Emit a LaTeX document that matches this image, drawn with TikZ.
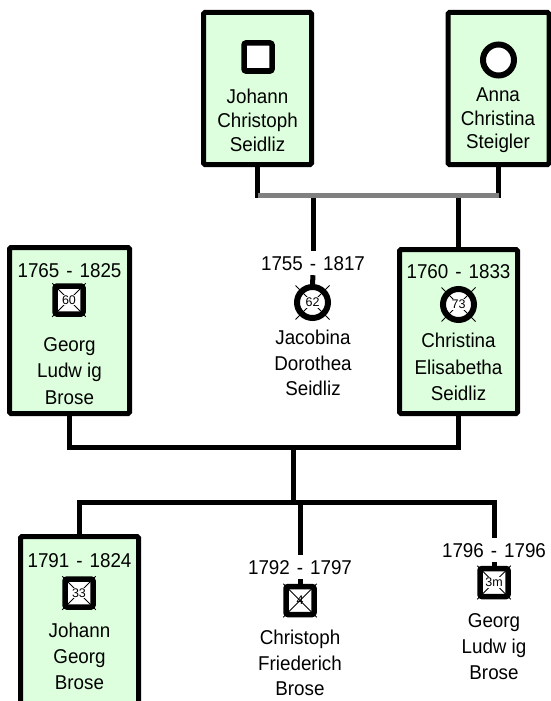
\documentclass[tikz,border=0pt]{standalone}
\usepackage{fontspec}
\setmainfont{Liberation Sans}[FakeStretch=0.94]
\newfontfamily\numfont{Liberation Sans}
\definecolor{boxgreen}{RGB}{221,255,221}
\definecolor{lingray}{RGB}{128,128,128}
\tikzset{
  pbox/.style={draw=black, line width=5pt, fill=boxgreen, rounded corners=1.5pt, inner sep=0pt},
  conn/.style={draw=black, line width=5pt},
  grayconn/.style={draw=lingray, line width=5pt},
  sqsym/.style={rectangle, draw=black, line width=5.5pt, fill=white, rounded corners=2pt, minimum size=28pt, inner sep=0pt},
  cisym/.style={circle, draw=black, line width=6pt, fill=white, minimum size=31pt, inner sep=0pt},
  xline/.style={draw=black, line width=0.8pt},
  agenum/.style={font=\numfont\fontsize{12.5}{12.5}\selectfont, inner sep=1pt, fill=white},
  agenumclear/.style={font=\numfont\fontsize{12.5}{12.5}\selectfont, inner sep=1pt},
  datestxt/.style={font={\fontsize{20}{24}\selectfont\spaceskip=7pt\relax}, inner xsep=0pt, inner ysep=5pt, text height=14.3pt, text depth=0pt, anchor=base},
  namestxt/.style={font=\fontsize{20}{#1}\selectfont, align=center, inner sep=0pt, anchor=north},
}
\begin{document}
\begin{tikzpicture}[x=1pt,y=-1pt]
\useasboundingbox (0,0) rectangle (550,701);
% ---------- boxes ----------
\node[pbox, minimum width=108pt, minimum height=152pt] (jcs) at (257.5,88.5) {};
\node[pbox, minimum width=101pt, minimum height=152pt] (acs) at (498.5,88.5) {};
\node[pbox, minimum width=120pt, minimum height=166pt] (glb) at (69.5,330.5) {};
\node[pbox, minimum width=118pt, minimum height=164pt] (ces) at (458.5,331.5) {};
\node[pbox, minimum width=118pt, minimum height=181pt] (jgb) at (79.5,627) {};
% ---------- top generation ----------
\node[sqsym] (jcsS) at (258,57) {};
\node[namestxt=24pt] (jcsN) at (257.5,89) {Johann\\Christoph\\Seidliz};
\node[cisym] (acsS) at (498.5,60) {};
\node[namestxt=23.5pt] (acsN) at (498,88) {Anna\\Christina\\Steigler};
% ---------- middle generation ----------
\node[datestxt] (glbD) at (69.5,277) {1765 - 1825};
\node[sqsym] (glbS) at (69,300) {};
\draw[xline] (glbS.north west) -- (glbS.south east);
\draw[xline] (glbS.north east) -- (glbS.south west);
\node[agenum] (glbA) at (glbS.center) {60};
\node[namestxt=26.5pt] (glbN) at (69.5,337) {Georg\\Ludw ig\\Brose};

\node[datestxt] (jacD) at (313,270) {1755 - 1817};
\node[cisym] (jacS) at (312.5,302.5) {};
\draw[xline] ([shift={(-17,-17)}]jacS.center) -- ([shift={(17,17)}]jacS.center);
\draw[xline] ([shift={(17,-17)}]jacS.center) -- ([shift={(-17,17)}]jacS.center);
\node[agenum] (jacA) at (jacS.center) {62};
\node[namestxt=25.5pt] (jacN) at (313,330) {Jacobina\\Dorothea\\Seidliz};

\node[datestxt] (cesD) at (458.5,278) {1760 - 1833};
\node[cisym] (cesS) at (458.5,304.5) {};
\draw[xline] ([shift={(-17,-17)}]cesS.center) -- ([shift={(17,17)}]cesS.center);
\draw[xline] ([shift={(17,-17)}]cesS.center) -- ([shift={(-17,17)}]cesS.center);
\node[agenum] (cesA) at (cesS.center) {73};
\node[namestxt=26.5pt] (cesN) at (458.5,333) {Christina\\Elisabetha\\Seidliz};
% ---------- bottom generation ----------
\node[datestxt] (jgbD) at (79.5,567) {1791 - 1824};
\node[sqsym] (jgbS) at (79,593) {};
\draw[xline] (jgbS.north west) -- (jgbS.south east);
\draw[xline] (jgbS.north east) -- (jgbS.south west);
\node[agenum] (jgbA) at (jgbS.center) {33};
\node[namestxt=26pt] (jgbN) at (79.5,623) {Johann\\Georg\\Brose};

\node[datestxt] (cfD) at (300,574) {1792 - 1797};
\node[sqsym] (cfS) at (300,600.5) {};
\draw[xline] (cfS.north west) -- (cfS.south east);
\draw[xline] (cfS.north east) -- (cfS.south west);
\node[agenumclear] (cfA) at (cfS.center) {4};
\node[namestxt=25.5pt] (cfN) at (300,630) {Christoph\\Friederich\\Brose};

\node[datestxt] (glsD) at (494,557) {1796 - 1796};
\node[sqsym] (glsS) at (494,582.5) {};
\draw[xline] (glsS.north west) -- (glsS.south east);
\draw[xline] (glsS.north east) -- (glsS.south west);
\node[agenum] (glsA) at (glsS.center) {3m};
\node[namestxt=26pt] (glsN) at (494,613) {Georg\\Ludw ig\\Brose};
% ---------- connectors ----------
\coordinate (gl) at (257.5,195);
\coordinate (gbot) at (0,197.5);
\draw[conn] (jcs.south) -- (jcs.south |- gbot);
\draw[conn] (acs.south) -- (acs.south |- gbot);
\draw[grayconn] (gl) -- (acs.south |- gl);
\draw[conn] (jacD.north |- gbot) -- (jacD.north);
\draw[conn] (jacD.south) -- (jacS.north);
\draw[conn] (ces.north |- gbot) -- (ces.north);
\coordinate (m1) at (293,447);
\coordinate (m2) at (293,502);
\draw[conn] (glb.south) |- (m1) -| (ces.south);
\draw[conn] (m1) -- (m2);
\draw[conn] (jgb.north) |- (glsD.north |- m2) -- (glsD.north);
\draw[conn] (cfD.north |- m2) -- (cfD.north);
\draw[conn] (cfD.south) -- (cfS.north);
\draw[conn] (glsD.south) -- (glsS.north);
\end{tikzpicture}
\end{document}
